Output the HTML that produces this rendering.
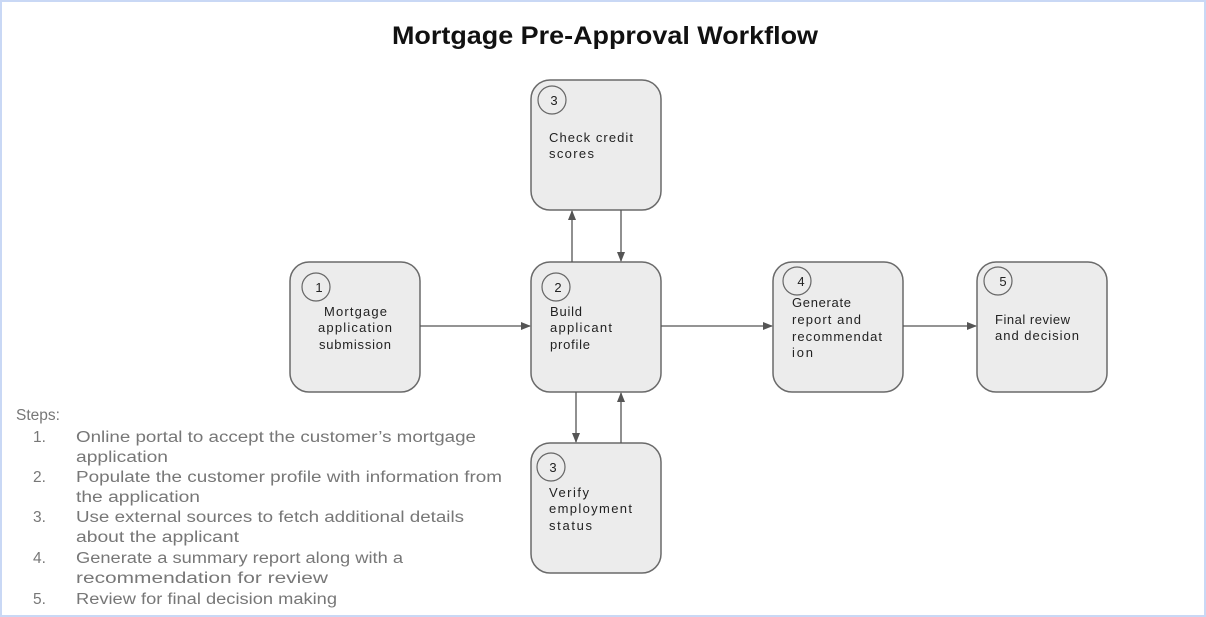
<!DOCTYPE html>
<html><head><meta charset="utf-8"><style>
html,body{margin:0;padding:0;background:#fff}
body{width:1206px;height:617px;overflow:hidden}
svg{display:block}
</style></head><body>
<svg width="1206" height="617" viewBox="0 0 1206 617" xmlns="http://www.w3.org/2000/svg" font-family="Liberation Sans, sans-serif">
<defs><marker id="a" markerWidth="10" markerHeight="8" refX="9" refY="4" orient="auto" markerUnits="userSpaceOnUse"><path d="M0,0 L10,4 L0,8 z" fill="#555"/></marker></defs>
<rect x="1" y="1" width="1204" height="615" fill="#fff" stroke="#c9d8f5" stroke-width="2"/>
<text x="392" y="44" font-size="25" font-weight="bold" fill="#111" textLength="426" lengthAdjust="spacingAndGlyphs">Mortgage Pre-Approval Workflow</text>
<g fill="#ececec" stroke="#6a6a6a" stroke-width="1.5">
<rect x="290" y="262" width="130" height="130" rx="19"/>
<rect x="531" y="262" width="130" height="130" rx="19"/>
<rect x="531" y="80" width="130" height="130" rx="19"/>
<rect x="531" y="443" width="130" height="130" rx="19"/>
<rect x="773" y="262" width="130" height="130" rx="19"/>
<rect x="977" y="262" width="130" height="130" rx="19"/>
</g>
<g fill="none" stroke="#666" stroke-width="1.2">
<circle cx="316" cy="287" r="14"/><circle cx="556" cy="287" r="14"/><circle cx="552" cy="100" r="14"/>
<circle cx="551" cy="467" r="14"/><circle cx="797" cy="281" r="14"/><circle cx="998" cy="281" r="14"/>
</g>
<g font-size="13" fill="#222">
<text x="319" y="292" text-anchor="middle">1</text>
<text x="558" y="292" text-anchor="middle">2</text>
<text x="554" y="105" text-anchor="middle">3</text>
<text x="553" y="472" text-anchor="middle">3</text>
<text x="801" y="286" text-anchor="middle">4</text>
<text x="1003" y="286" text-anchor="middle">5</text>
</g>
<g font-size="13" fill="#222" lengthAdjust="spacingAndGlyphs">
<text x="324" y="316" textLength="63">Mortgage</text>
<text x="318" y="332" textLength="74">application</text>
<text x="319" y="349" textLength="72">submission</text>
<text x="550" y="316" textLength="32">Build</text>
<text x="550" y="332" textLength="62">applicant</text>
<text x="550" y="349" textLength="40">profile</text>
<text x="549" y="142" textLength="84">Check credit</text>
<text x="549" y="158" textLength="45">scores</text>
<text x="549" y="497" textLength="40">Verify</text>
<text x="549" y="513" textLength="83">employment</text>
<text x="549" y="530" textLength="43">status</text>
<text x="792" y="307" textLength="59">Generate</text>
<text x="792" y="324" textLength="69">report and</text>
<text x="792" y="341" textLength="90">recommendat</text>
<text x="792" y="357" textLength="21">ion</text>
<text x="995" y="324" textLength="75">Final review</text>
<text x="995" y="340" textLength="84">and decision</text>
</g>
<g font-size="15.5" fill="#777">
<text x="16" y="420">Steps:</text>
<text x="33" y="442">1.</text><text x="76" y="442" textLength="400" lengthAdjust="spacingAndGlyphs">Online portal to accept the customer’s mortgage</text><text x="76" y="462" textLength="92" lengthAdjust="spacingAndGlyphs">application</text>
<text x="33" y="482">2.</text><text x="76" y="482" textLength="426" lengthAdjust="spacingAndGlyphs">Populate the customer profile with information from</text><text x="76" y="502" textLength="124" lengthAdjust="spacingAndGlyphs">the application</text>
<text x="33" y="522">3.</text><text x="76" y="522" textLength="388" lengthAdjust="spacingAndGlyphs">Use external sources to fetch additional details</text><text x="76" y="542" textLength="163" lengthAdjust="spacingAndGlyphs">about the applicant</text>
<text x="33" y="563">4.</text><text x="76" y="563" textLength="327" lengthAdjust="spacingAndGlyphs">Generate a summary report along with a</text><text x="76" y="583" textLength="252" lengthAdjust="spacingAndGlyphs">recommendation for review</text>
<text x="33" y="604">5.</text><text x="76" y="604" textLength="261" lengthAdjust="spacingAndGlyphs">Review for final decision making</text>
</g>
<g stroke="#555" stroke-width="1.3" marker-end="url(#a)">
<line x1="420" y1="326" x2="530" y2="326"/>
<line x1="661" y1="326" x2="772" y2="326"/>
<line x1="903" y1="326" x2="976" y2="326"/>
<line x1="572" y1="262" x2="572" y2="211"/>
<line x1="621" y1="210" x2="621" y2="261"/>
<line x1="576" y1="392" x2="576" y2="442"/>
<line x1="621" y1="443" x2="621" y2="393"/>
</g>
</svg>
</body></html>
